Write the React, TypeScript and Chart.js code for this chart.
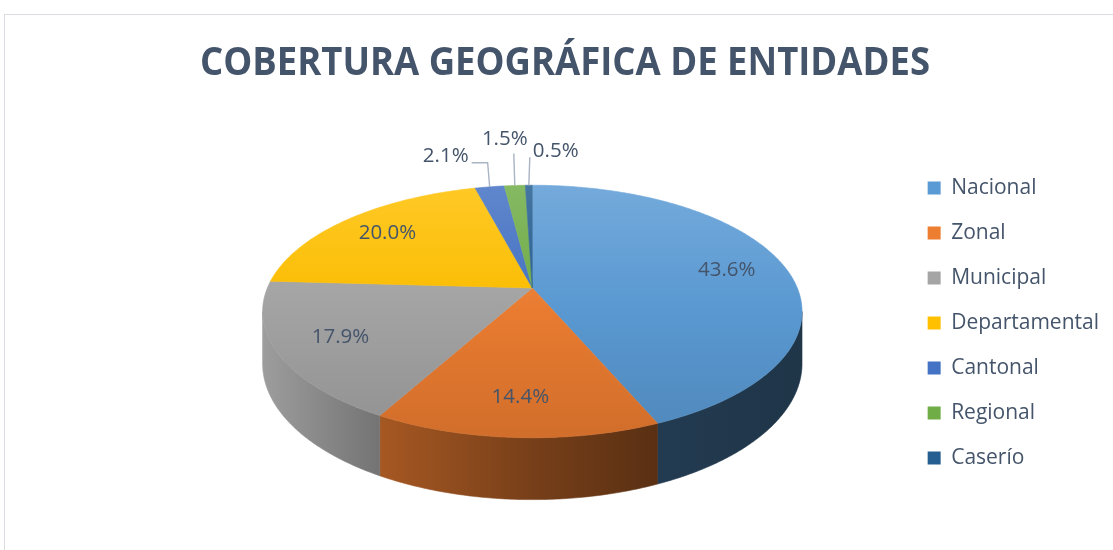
import React, { useEffect, useRef } from 'react';
import { Chart, registerables } from 'chart.js';

Chart.register(...registerables);

// ---------- data ----------
const chartTitle = 'COBERTURA GEOGRÁFICA DE ENTIDADES';
const categories = ['Nacional', 'Zonal', 'Municipal', 'Departamental', 'Cantonal', 'Regional', 'Caserío'];
const shares = [43.6, 14.4, 17.9, 20.0, 2.1, 1.5, 0.5];
const sliceColors = ['#5B9BD5', '#ED7D31', '#A5A5A5', '#FFC000', '#4472C4', '#70AD47', '#255E91'];

// ---------- style ----------
const TEXT_COLOR = '#44546A';
const FONT = "'Open Sans', 'Noto Sans', sans-serif";
const TILT = 0.46; // vertical squash of the pie top
const PERSP = 0.186; // perspective strength
const DEPTH = 0.19; // thickness of the pie relative to radius
const LABEL_RADIUS = 0.77;
const WALL_STOPS: [number, number][] = [[0, 0.95], [0.22, 0.7], [0.5, 0.5], [0.73, 0.38], [1, 0.34]];
const TITLE_CENTER_X = 565;
const TITLE_BASELINE = 75;
const TITLE_WIDTH = 730;

function hexToRgb(h: string): number[] {
  const v = h.replace('#', '');
  return [0, 2, 4].map((i) => parseInt(v.slice(i, i + 2), 16));
}
function shade(rgb: number[], f: number) {
  const c = rgb.map((x) => Math.max(0, Math.min(255, Math.round(x * f))));
  return `rgb(${c[0]},${c[1]},${c[2]})`;
}
function tint(rgb: number[], t: number) {
  const c = rgb.map((x) => Math.round(x + (255 - x) * t));
  return `rgb(${c[0]},${c[1]},${c[2]})`;
}

const pie3d = {
  id: 'pie3d',
  beforeDatasetsDraw(chart: any) {
    const ctx: CanvasRenderingContext2D = chart.ctx;
    const meta = chart.getDatasetMeta(0);
    const arcs = meta.data as any[];
    if (!arcs.length) return false;
    const cx = arcs[0].x;
    const cy = arcs[0].y;
    const R = arcs[0].outerRadius;
    const T = R * TILT;
    const D = R * DEPTH;
    const proj = (ang: number, r: number, h: number) => {
      const X = r * Math.cos(ang);
      const Y = -r * Math.sin(ang);
      const den = 1 + PERSP * Y;
      return [cx + (R * X) / den, cy - (T * Y) / den + (h * D) / den];
    };
    const topY = cy - T / (1 + PERSP);
    const botY = cy + T / (1 - PERSP);
    const halfW = R / Math.sqrt(1 - PERSP * PERSP);
    const aMin = Math.acos(-PERSP) - Math.PI / 2;
    const aMax = (3 * Math.PI) / 2 - Math.acos(-PERSP);
    const colors = chart.data.datasets[0].backgroundColor as string[];

    ctx.save();
    // side walls
    arcs.forEach((arc, i) => {
      const lo = Math.max(arc.startAngle, aMin);
      const hi = Math.min(arc.endAngle, aMax);
      if (hi <= lo) return;
      const rgb = hexToRgb(colors[i]);
      const g = ctx.createLinearGradient(cx - halfW, 0, cx + halfW, 0);
      WALL_STOPS.forEach(([p, f]) => g.addColorStop(p, shade(rgb, f)));
      const n = Math.max(4, Math.ceil((hi - lo) / 0.01));
      ctx.beginPath();
      for (let s = 0; s <= n; s++) {
        const [x, y] = proj(lo + ((hi - lo) * s) / n, 1, 0);
        if (s === 0) ctx.moveTo(x, y);
        else ctx.lineTo(x, y);
      }
      for (let s = n; s >= 0; s--) {
        const [x, y] = proj(lo + ((hi - lo) * s) / n, 1, 1);
        ctx.lineTo(x, y);
      }
      ctx.closePath();
      ctx.fillStyle = g;
      ctx.fill();
      ctx.strokeStyle = g;
      ctx.lineWidth = 0.6;
      ctx.stroke();
    });
    // top faces
    arcs.forEach((arc, i) => {
      const rgb = hexToRgb(colors[i]);
      const g = ctx.createLinearGradient(0, topY, 0, botY);
      g.addColorStop(0, tint(rgb, 0.15));
      g.addColorStop(0.5, shade(rgb, 0.98));
      g.addColorStop(1, shade(rgb, 0.88));
      const lo = arc.startAngle;
      const hi = arc.endAngle;
      const n = Math.max(4, Math.ceil((hi - lo) / 0.01));
      ctx.beginPath();
      ctx.moveTo(cx, cy);
      for (let s = 0; s <= n; s++) {
        const [x, y] = proj(lo + ((hi - lo) * s) / n, 1, 0);
        ctx.lineTo(x, y);
      }
      ctx.closePath();
      ctx.fillStyle = g;
      ctx.fill();
      ctx.strokeStyle = g;
      ctx.lineWidth = 0.6;
      ctx.stroke();
    });

    // data labels
    const values = chart.data.datasets[0].data as number[];
    const total = values.reduce((a, b) => a + b, 0);
    ctx.font = `20.5px ${FONT}`;
    ctx.fillStyle = TEXT_COLOR;
    ctx.textBaseline = 'middle';
    const small: { arc: any; text: string }[] = [];
    arcs.forEach((arc, i) => {
      const pct = (values[i] / total) * 100;
      const text = pct.toFixed(1) + '%';
      if (pct >= 5) {
        const mid = (arc.startAngle + arc.endAngle) / 2;
        const [x, y] = proj(mid, LABEL_RADIUS, 0);
        ctx.textAlign = 'center';
        ctx.fillText(text, x, y);
      } else {
        small.push({ arc, text });
      }
    });
    ctx.strokeStyle = '#A9B4C4';
    ctx.lineWidth = 1.4;
    small.forEach(({ arc, text }, j) => {
      const mid = (arc.startAngle + arc.endAngle) / 2;
      const [ax, ay] = proj(mid, 1, 0);
      ctx.beginPath();
      ctx.moveTo(ax, ay);
      if (j === 0 && small.length > 1) {
        const ty = ay - 24;
        ctx.lineTo(ax - 2, ty);
        ctx.lineTo(ax - 18, ty);
        ctx.stroke();
        ctx.textAlign = 'right';
        ctx.fillText(text, ax - 21, ty - 7);
      } else if (j === small.length - 1 && small.length > 1) {
        const ty = ay - 28;
        ctx.lineTo(ax + 1, ty);
        ctx.stroke();
        ctx.textAlign = 'left';
        ctx.fillText(text, ax + 4, ty - 6);
      } else {
        const ty = ay - 32;
        ctx.lineTo(ax - 1, ty);
        ctx.stroke();
        ctx.textAlign = 'center';
        ctx.fillText(text, ax - 10, ty - 14);
      }
    });
    ctx.restore();
    return false;
  },
  afterDraw(chart: any) {
    const ctx: CanvasRenderingContext2D = chart.ctx;
    ctx.save();
    ctx.font = `bold 39px ${FONT}`;
    const w = ctx.measureText(chartTitle).width;
    const sx = TITLE_WIDTH / w;
    ctx.translate(TITLE_CENTER_X, TITLE_BASELINE);
    ctx.scale(sx, 1);
    ctx.fillStyle = TEXT_COLOR;
    ctx.textAlign = 'center';
    ctx.textBaseline = 'alphabetic';
    ctx.fillText(chartTitle, 0, 0);
    ctx.restore();
  },
};

export default function App() {
  const ref = useRef<HTMLCanvasElement | null>(null);
  useEffect(() => {
    if (!ref.current) return;
    const chart = new Chart(ref.current, {
      type: 'pie',
      data: {
        labels: categories,
        datasets: [
          {
            data: shares,
            backgroundColor: sliceColors,
            borderWidth: 0,
            radius: 265,
          } as any,
        ],
      },
      options: {
        responsive: false,
        animation: false,
        devicePixelRatio: 1,
        events: [],
        rotation: 0,
        layout: { padding: { left: 161, right: 4, top: 83.5, bottom: 57.5 } },
        plugins: {
          title: { display: false },
          tooltip: { enabled: false },
          legend: {
            display: true,
            position: 'right',
            align: 'end',
            labels: {
              color: TEXT_COLOR,
              font: { family: FONT, size: 21 },
              boxWidth: 13,
              boxHeight: 13,
              padding: 24,
            },
          },
        },
      },
      plugins: [pie3d],
    });
    return () => chart.destroy();
  }, []);

  return (
    <div style={{ position: 'absolute', left: 0, top: 0, width: 1113, height: 550, overflow: 'hidden', background: '#fff' }}>
      <div
        style={{
          position: 'absolute',
          left: 4,
          top: 14,
          width: 1200,
          height: 600,
          border: '1px solid #DADDE2',
          boxSizing: 'border-box',
        }}
      />
      <canvas ref={ref} width={1113} height={550} style={{ position: 'absolute', left: 0, top: 0 }} />
    </div>
  );
}
